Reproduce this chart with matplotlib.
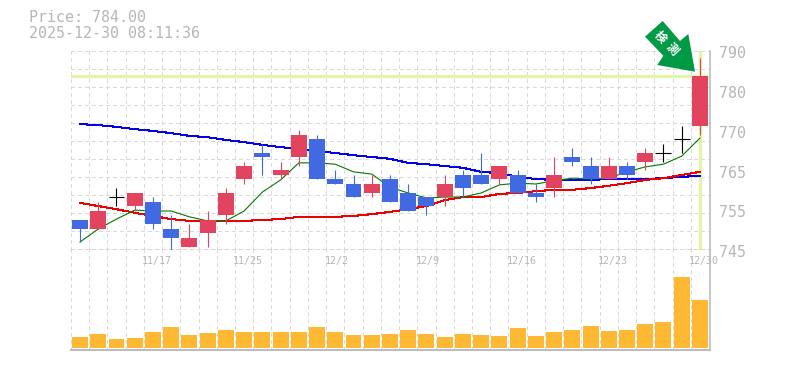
#!/usr/bin/env python3
"""Daily candles with moving averages and volume, 2025-11 to 2025-12."""
import numpy as np
import matplotlib
matplotlib.use("Agg")
import matplotlib.pyplot as plt
from matplotlib.patches import Polygon
from matplotlib.transforms import IdentityTransform

W, H = 785, 370
UP = "#E2445F"; DOWN = "#4169E1"; DOJI = "#000000"
GRID = "#DADADA"; FRAME = "#BDBDBD"; LABEL = "#B6B6B6"
HILITE = "#E3F5A8"; VOL = "#FFB833"; ARROW = "#009944"

opens = [752, 750, 757, 755, 756, 750, 746, 749, 753, 761, 767, 762, 766, 770, 761, 760, 758, 761,
         758, 757, 757, 762, 762, 761, 762, 758, 759, 766, 764, 761, 764, 765, 767, 770, 773]
highs = [752, 756, 759, 758, 757, 753, 751, 754, 759, 765, 769, 765, 772, 771, 763, 762, 762, 762,
         760, 757, 762, 763, 767, 764, 763, 760, 766, 768, 766, 766, 765, 768, 769, 773, 788]
lows = [747, 750, 755, 754, 750, 745, 746, 746, 751, 760, 762, 761, 764, 761, 760, 757, 757, 756,
        754, 753, 755, 757, 760, 760, 758, 756, 757, 764, 760, 761, 761, 763, 765, 767, 771]
closes = [750, 754, 757, 758, 751, 748, 748, 752, 758, 764, 766, 763, 771, 761, 760, 757, 760, 756,
          754, 755, 760, 759, 760, 764, 758, 757, 762, 765, 761, 764, 762, 767, 767, 770, 784]
ma_short = [747.1, 750, 752.2, 754.2, 754, 754, 752.7, 751.8, 751.8, 754, 758.2, 760.9, 764.7, 764.7,
            764.4, 762.7, 762.2, 759.3, 758, 756.9, 757.1, 757.1, 758, 759.8, 760.2, 760, 760.7,
            761.3, 761.1, 761.3, 762.7, 763.8, 764.4, 766.2, 770.2]
ma_mid = [755.8, 755.1, 754.4, 753.6, 752.9, 752.2, 751.8, 751.8, 751.8, 751.8, 752, 752.2, 752.7, 752.7,
          752.7, 752.9, 753.3, 753.8, 754.4, 755.1, 756.4, 757.1, 757.1, 757.8, 758, 758.4, 758.7,
          758.7, 759.1, 759.6, 760.2, 760.9, 761.3, 762, 762.7]
ma_long = [773.3, 773.1, 772.7, 772.2, 771.8, 771.3, 770.7, 770.4, 769.8, 769.3, 768.7, 768.2, 767.8, 767.3,
           766.9, 766.4, 766, 765.6, 764.7, 764.4, 764, 763.6, 762.7, 762.4, 761.6, 761.1, 760.9,
           760.9, 760.9, 761.1, 761.1, 761.1, 761.3, 761.6, 761.8]
volume = [11, 14, 9, 10, 16, 21, 13, 15, 18, 16, 16, 16, 16, 21, 16, 13, 13, 14,
          18, 14, 11, 14, 13, 12, 20, 12, 16, 18, 22, 17, 18, 24, 26, 71, 48]
date_labels = ["11/17", "11/25", "12/2", "12/9", "12/16", "12/23", "12/30"]
date_index = [4, 9, 14, 19, 24, 29, 34]
# the source chart's axis labels are not evenly scaled, keep them where they sit
price_labels = ["790", "780", "770", "765", "755", "745"]
price_label_pos = [789.1, 780.2, 771.3, 762.4, 753.6, 744.7]
last_price = 784
title_lines = ["Price: 784.00", "2025-12-30 08:11:36"]

x = np.arange(len(closes))
LEFT, RIGHT = 70.9, 709.6
MONO = "DejaVu Sans Mono"
DASH = (0, (3, 3))

fig = plt.figure(figsize=(W / 100, H / 100), dpi=100, facecolor="white")
ax = fig.add_axes([LEFT / W, 1 - 250 / H, (RIGHT - LEFT) / W, 199 / H])
vx = fig.add_axes([LEFT / W, 1 - 350 / H, (RIGHT - LEFT) / W, 100 / H])

for a in (ax, vx):
    a.set_xlim(-0.5, 34.53)
    a.set_xticks(x - 0.5)
    a.tick_params(length=0, labelbottom=False, labelleft=False)
    a.grid(axis="x", color=GRID, lw=0.72, ls=DASH, zorder=0, antialiased=False)
    a.set_axisbelow(True)
    for s in ("top", "left"):
        a.spines[s].set_visible(False)
    a.spines["right"].set_color(FRAME)
    a.spines["bottom"].set_color(FRAME)

# ---- price panel ------------------------------------------------------------
ax.set_ylim(745.33, 789.56)
ax.set_yticks(np.arange(745.56, 790, 4))
ax.grid(axis="y", color=GRID, lw=0.72, ls=DASH, zorder=0, antialiased=False)
ax.spines["bottom"].set_linewidth(1.0)
ax.spines["right"].set_linewidth(1.2)

ax.axhline(last_price, color=HILITE, lw=2.4, zorder=1)
ax.axvline(x[-1], ymax=0.995, ymin=0.006, color=HILITE, lw=2.4, zorder=1)

ax.plot(x, ma_long, color="#0000EE", lw=0.75, zorder=2, antialiased=False)
ax.plot(x, ma_mid, color="#EE0000", lw=0.75, zorder=2, antialiased=False)
ax.plot(x, ma_short, color="#007A00", lw=0.8, zorder=2)

bw = 0.875
for i, (o, h, l, c) in enumerate(zip(opens, highs, lows, closes)):
    if o == c or (i in (2, 32, 33)):
        ax.plot([i, i], [l, h], color=DOJI, lw=0.8, zorder=3, solid_capstyle="butt")
        ax.plot([i - bw / 2, i + bw / 2], [c, c], color=DOJI, lw=0.8, zorder=3, solid_capstyle="butt")
        continue
    col = UP if c > o else DOWN
    ax.plot([i, i], [l, h], color=col, lw=0.8, zorder=3, solid_capstyle="butt")
    ax.bar(i, abs(c - o), bottom=min(o, c), width=bw, color=col, zorder=4, lw=0)

for txt, p in zip(price_labels, price_label_pos):
    ax.text(1.0152, p, txt, transform=ax.get_yaxis_transform(), family=MONO, fontsize=10.8,
            color=LABEL, ha="left", va="center")

# ---- volume panel -----------------------------------------------------------
vx.bar(x, volume, width=bw, color=VOL, zorder=3, lw=0)
vx.set_ylim(-2.3, 97.7)
vx.set_yticks([])
vx.spines["bottom"].set_linewidth(1.5)
vx.spines["right"].set_linewidth(1.2)

for i, txt in zip(date_index, date_labels):
    vx.text(i - 0.6, 0.89, txt, transform=vx.get_xaxis_transform(), family=MONO, fontsize=7.2,
            color=LABEL, ha="left", va="center", zorder=6, clip_on=False)

# ---- header and flag --------------------------------------------------------
for ypx, line in zip((18, 33), title_lines):
    fig.text(29.3 / W, 1 - ypx / H, line, family=MONO, fontsize=10.8, color=LABEL, ha="left", va="center")

arrow_px = [(662.7, 21), (645, 36.7), (663.3, 55.7), (657.3, 65), (695, 71.7), (688.3, 34), (680, 41)]
fig.add_artist(Polygon([(px, H - py) for px, py in arrow_px], closed=True, facecolor=ARROW, edgecolor="none",
                       transform=IdentityTransform(), zorder=8))
for (px, py), ch in zip([(660.5, 37), (672, 49.5)], "検測"):
    fig.text(px / W, 1 - py / H, ch, family=["Noto Sans CJK JP", "DejaVu Sans"], fontweight="bold", fontsize=8.6,
             color="white", rotation=-47, ha="center", va="center", zorder=9)

fig.savefig("out.png", dpi=100, facecolor="white")
